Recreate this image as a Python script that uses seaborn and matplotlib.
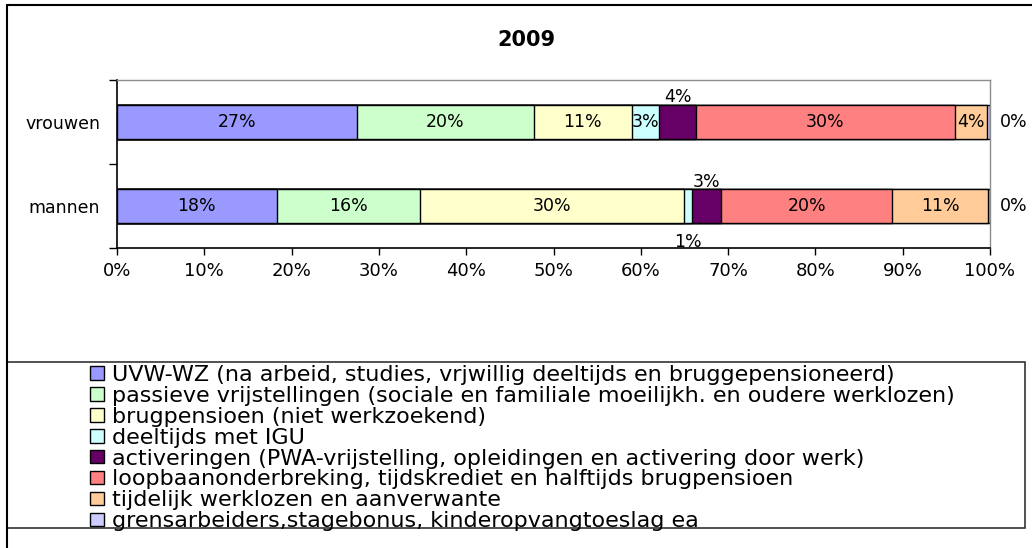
import matplotlib
matplotlib.use("Agg")
import numpy as np
import pandas as pd
import matplotlib.pyplot as plt
import seaborn as sns
from matplotlib.lines import Line2D
from matplotlib.patches import Rectangle

# Style
sns.set_style("white")
plt.rcParams['font.family'] = ['DejaVu Sans']
plt.rcParams['text.color'] = 'black'
plt.rcParams['xtick.color'] = 'black'
plt.rcParams['ytick.color'] = 'black'

# Data (percentages)
groups = ["vrouwen", "mannen"]
categories = [
    "UVW-WZ (na arbeid, studies, vrjwillig deeltijds en bruggepensioneerd)",
    "passieve vrijstellingen (sociale en familiale moeilijkh. en oudere werklozen)",
    "brugpensioen (niet werkzoekend)",
    "deeltijds met IGU",
    "activeringen (PWA-vrijstelling, opleidingen en activering door werk)",
    "loopbaanonderbreking, tijdskrediet en halftijds brugpensioen",
    "tijdelijk werklozen en aanverwante",
    "grensarbeiders,stagebonus, kinderopvangtoeslag ea",
]
vrouwen = [27.45, 20.3, 11.2, 3.15, 4.2, 29.7, 3.7, 0.3]
mannen = [18.3, 16.4, 30.2, 1.0, 3.3, 19.6, 10.95, 0.25]
colors = ["#9999FF", "#CCFFCC", "#FFFFCC", "#CCFFFF",
          "#660066", "#FF8080", "#FFCC99", "#CCCCFF"]

df = pd.DataFrame({
    "groep": np.repeat(groups, len(categories)),
    "idx": np.tile(np.arange(len(categories)), len(groups)),
    "categorie": np.tile(categories, len(groups)),
    "aandeel": vrouwen + mannen,
})
df["einde"] = df.groupby("groep")["aandeel"].cumsum()
df["midden"] = df["einde"] - df["aandeel"] / 2

W, H = 1032, 548
fig = plt.figure(figsize=(W / 100, H / 100), dpi=100)
ax = fig.add_axes([117 / W, 1 - 248 / H, 873 / W, 168 / H])

# Stacked bars: draw cumulative totals from the back to the front
for cat, col in reversed(list(zip(categories, colors))):
    sub = df[df["categorie"] == cat]
    sns.barplot(data=sub, x="einde", y="groep", order=groups, color=col,
                orient="h", width=0.4, edgecolor="black", linewidth=1,
                saturation=1, errorbar=None, ax=ax)

# Labels (a few small segments are labelled outside the bar)
label_pos = {
    ("vrouwen", 4): (None, -0.30),
    ("mannen", 4): (None, -0.29),
    ("mannen", 3): (None, 0.43),
    ("vrouwen", 7): (102.7, 0.0),
    ("mannen", 7): (102.7, 0.0),
}
for _, row in df.iterrows():
    yi = groups.index(row["groep"])
    x, dy = label_pos.get((row["groep"], row["idx"]), (None, 0.0))
    if x is None:
        x = row["midden"]
    ax.text(x, yi + dy, f"{row['aandeel']:.0f}%", ha="center", va="center",
            fontsize=12.5, color="black", clip_on=False)

# Axes
ax.set_xlim(0, 100)
ax.set_ylim(1.5, -0.5)
ax.set_xticks(range(0, 101, 10))
ax.set_xticklabels([f"{t}%" for t in range(0, 101, 10)], fontsize=13)
ax.set_yticks([0, 1])
ax.set_yticklabels(groups, fontsize=12.5)
ax.set_yticks([-0.5, 0.5, 1.5], minor=True)
ax.set_xlabel("")
ax.set_ylabel("")
ax.tick_params(axis="y", which="major", length=0, pad=12)
ax.tick_params(axis="y", which="minor", length=6, width=1, color="black", direction="out", left=True)
ax.tick_params(axis="x", length=5, width=1, color="black", direction="out", bottom=True, pad=5)
for s in ["top", "right"]:
    ax.spines[s].set_color("#8c8c8c")
    ax.spines[s].set_linewidth(1)
for s in ["left", "bottom"]:
    ax.spines[s].set_color("black")
    ax.spines[s].set_linewidth(1.2)

# Title
fig.text(526 / W, 1 - 40 / H, "2009", ha="center", va="center",
         fontsize=15, fontweight="bold", color="black")

# Legend
handles = [Rectangle((0, 0), 1, 1, facecolor=c, edgecolor="black", linewidth=1)
           for c in colors]
fig.legend(handles, categories, loc="upper left",
           bbox_to_anchor=(90 / W, 1 - 365 / H), frameon=False, fontsize=16,
           handlelength=0.62, handleheight=0.55, handletextpad=0.35,
           labelspacing=0.04, borderpad=0, borderaxespad=0, labelcolor="black")

# Frames
fig.add_artist(Rectangle((7 / W, 1 - 528 / H), (1025 - 7) / W, (528 - 362) / H,
                         transform=fig.transFigure, fill=False,
                         edgecolor="#333333", linewidth=1.2))
fig.add_artist(Line2D([7 / W, 7 / W], [0, 1 - 5 / H], transform=fig.transFigure,
                      color="black", linewidth=1.5))
fig.add_artist(Line2D([7 / W, 1], [1 - 5 / H, 1 - 5 / H], transform=fig.transFigure,
                      color="black", linewidth=1.5))

fig.savefig("out.png", dpi=100)
plt.close(fig)
